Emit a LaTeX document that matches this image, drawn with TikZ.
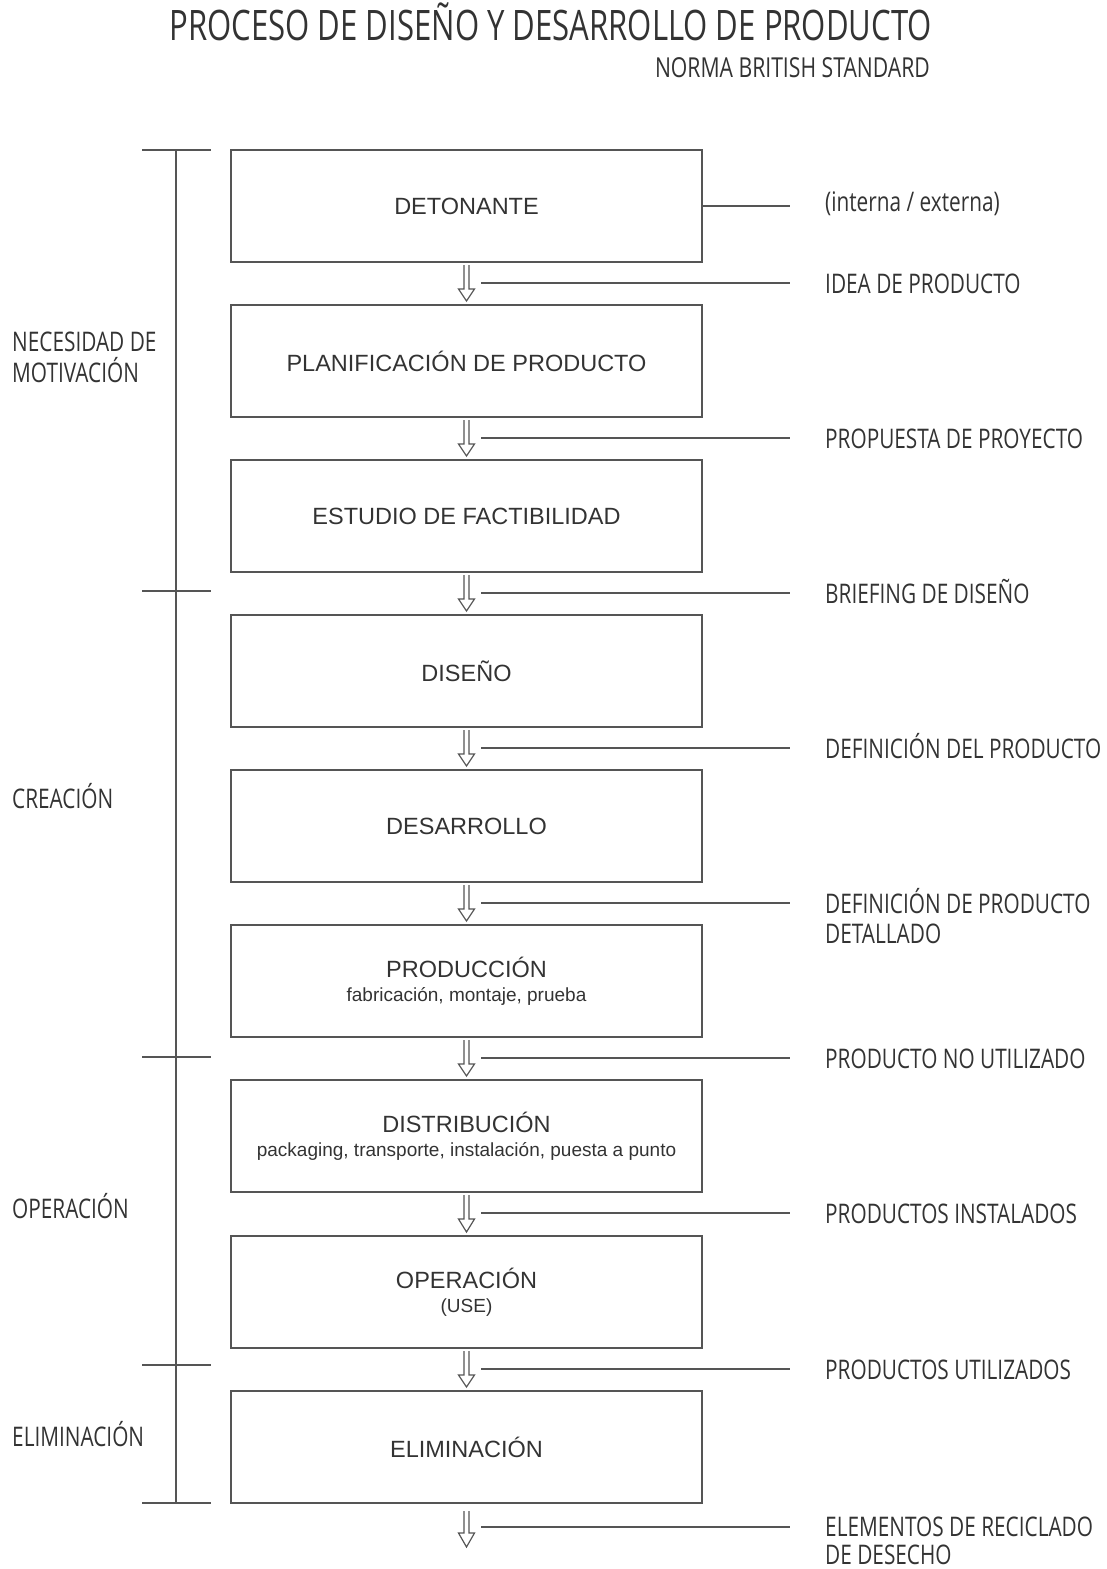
\documentclass[tikz,border=0pt]{standalone}
\usepackage{fontspec}
\setmainfont{Liberation Sans}
\newfontfamily\condf[FakeStretch=0.77]{Open Sans}
\newfontfamily\titlef[FakeStretch=0.74]{Open Sans}
\usetikzlibrary{calc}
\definecolor{ink}{HTML}{333333}
\definecolor{rule}{HTML}{555555}
\tikzset{
  stage/.style={draw=rule, line width=2pt, minimum width=471pt, minimum height=112pt,
    inner sep=0pt, text=ink, align=center, font=\fontsize{23.5}{26}\selectfont},
  flowarrow/.style={draw=rule, line width=1.2pt, line join=miter},
  tag/.style={anchor=base west, inner sep=0pt, text=ink, align=left,
    font=\condf\fontsize{27}{30}\selectfont},
  phase/.style={anchor=base west, inner sep=0pt, text=ink, align=left,
    font=\condf\fontsize{27}{31}\selectfont},
  leader/.style={draw=rule, line width=1.4pt},
  bracket/.style={draw=rule, line width=1.4pt}
}
\newcommand{\sublabel}[1]{\\[-2pt]{\fontsize{19}{22}\selectfont #1}}
\begin{document}
\begin{tikzpicture}[x=1pt, y=-1pt]
\useasboundingbox (0,0) rectangle (1107,1569);

% title
\node[anchor=base east, inner sep=0pt, text=ink, font=\titlef\fontsize{42}{46}\selectfont] (title) at (932,40)
  {PROCESO DE DISEÑO Y DESARROLLO DE PRODUCTO};
\node[anchor=base east, inner sep=0pt, text=ink, font=\condf\fontsize{27.5}{30}\selectfont] (norm) at (930,77)
  {NORMA BRITISH STANDARD};

% stages
\node[stage] (s1) at (466.5,206) {DETONANTE};
\node[stage] (s2) at (466.5,361) {PLANIFICACIÓN DE PRODUCTO};
\node[stage] (s3) at (466.5,516) {ESTUDIO DE FACTIBILIDAD};
\node[stage] (s4) at (466.5,671) {DISEÑO};
\node[stage] (s5) at (466.5,826) {DESARROLLO};
\node[stage] (s6) at (466.5,981) {PRODUCCIÓN\sublabel{fabricación, montaje, prueba}};
\node[stage] (s7) at (466.5,1136) {DISTRIBUCIÓN\sublabel{packaging, transporte, instalación, puesta a punto}};
\node[stage] (s8) at (466.5,1292) {OPERACIÓN\sublabel{(USE)}};
\node[stage] (s9) at (466.5,1447) {ELIMINACIÓN};
\coordinate (end) at ($(s9.south)+(0,43)$);

% hollow arrows between stages
\foreach \a/\b in {s1/s2,s2/s3,s3/s4,s4/s5,s5/s6,s6/s7,s7/s8,s8/s9} {
  \draw[flowarrow] ($(\a.south)+(-2.5,2)$) -- ($(\a.south)+(-2.5,26)$) -- ($(\a.south)+(-8,26)$)
    -- ($(\b.north)+(0,-3)$) -- ($(\a.south)+(8,26)$) -- ($(\a.south)+(2.5,26)$) -- ($(\a.south)+(2.5,2)$);
}
\draw[flowarrow] ($(s9.south)+(-2.5,7)$) -- ($(s9.south)+(-2.5,29)$) -- ($(s9.south)+(-8,29)$)
  -- (end) -- ($(s9.south)+(8,29)$) -- ($(s9.south)+(2.5,29)$) -- ($(s9.south)+(2.5,7)$);

% outputs on the right
\node[tag] (t0) at (825,211) {(interna / externa)};
\draw[leader] (s1.east) -- (790,206);
\foreach \a/\txt [count=\i] in {
  s1/IDEA DE PRODUCTO,
  s2/PROPUESTA DE PROYECTO,
  s3/BRIEFING DE DISEÑO,
  s4/DEFINICIÓN DEL PRODUCTO,
  s5/,
  s6/PRODUCTO NO UTILIZADO,
  s7/PRODUCTOS INSTALADOS,
  s8/PRODUCTOS UTILIZADOS} {
  \coordinate (l\i) at ($(\a.south)+(14.5,20)$);
  \draw[leader] (l\i) -- (l\i -| 790,0);
  \node[tag] (t\i) at ($(l\i -| 825,0)+(0,10)$) {\txt};
}
% two-line outputs: the base anchor sits on the last line
\node[tag] (t5b) at ($(l5 -| 825,0)+(0,40)$) {DEFINICIÓN DE PRODUCTO\\DETALLADO};
\coordinate (l9) at ($(s9.south)+(14.5,23)$);
\draw[leader] (l9) -- (l9 -| 790,0);
\node[tag, font=\condf\fontsize{27}{28}\selectfont] (t9) at ($(l9 -| 825,0)+(0,37)$) {ELEMENTOS DE RECICLADO\\DE DESECHO};

% phase bracket on the left
\coordinate (btop) at (176,150);
\coordinate (bbot) at (176,1503);
\draw[bracket] (btop) -- (bbot);
\foreach \y in {150,591,1057,1365,1503}
  \draw[bracket] (142,\y) -- (211,\y);

\node[phase] (p1) at (12,382) {NECESIDAD DE\\MOTIVACIÓN};
\node[phase] (p2) at (12,808) {CREACIÓN};
\node[phase] (p3) at (12,1218) {OPERACIÓN};
\node[phase] (p4) at (12,1446) {ELIMINACIÓN};
\end{tikzpicture}
\end{document}
